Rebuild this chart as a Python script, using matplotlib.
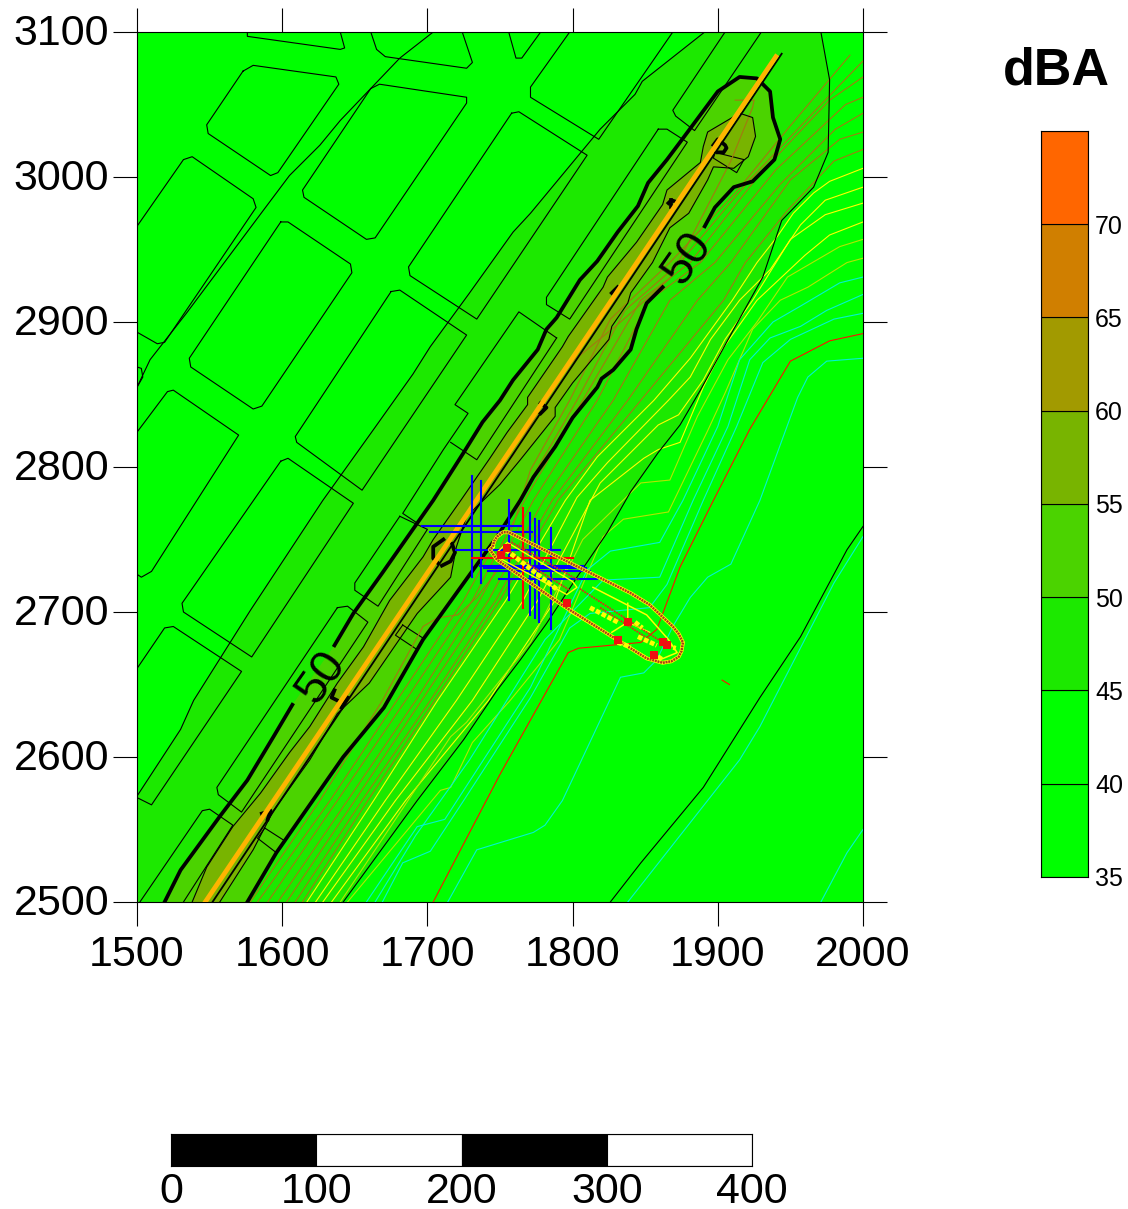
import matplotlib
matplotlib.use('Agg')
import matplotlib.pyplot as plt
from matplotlib.transforms import ScaledTranslation

plt.rcParams['font.family'] = ['Liberation Sans', 'DejaVu Sans']

# colour bands of the legend
levels = [35, 40, 45, 50, 55, 60, 65, 70, 75]
band_colors = ['#00FF00', '#00FF00', '#1CE900', '#4BD300', '#78B400', '#A29A00', '#D07F00', '#FF6600']
x_ticks = [1500, 1600, 1700, 1800, 1900, 2000]
y_ticks = [2500, 2600, 2700, 2800, 2900, 3000, 3100]
scale_ticks = [0, 100, 200, 300, 400]

# buildings
blocks_open = [
    ([1576, 1576, 1640, 1643, 1640], [3100, 3097, 3088, 3089, 3100]),
    ([1661, 1665, 1671, 1727, 1731, 1724], [3100, 3088, 3083, 3075, 3079, 3100]),
    ([1756, 1761, 1765, 1778], [3100, 3082, 3082, 3100]),
    ([1798, 1771, 1771, 1818, 1869], [3100, 3062, 3055, 3026, 3100]),
    ([1905, 1869, 1871, 1884, 1930], [3100, 3046, 3042, 3032, 3100]),
    ([1500, 1532, 1538, 1580, 1582, 1519, 1514, 1500], [2966, 3012, 3014, 2985, 2979, 2886, 2885, 2893]),
    ([1500, 1503, 1504, 1500], [2869, 2868, 2862, 2855]),
    ([1500, 1521, 1525, 1570, 1510, 1503, 1500], [2824, 2852, 2853, 2822, 2728, 2724, 2726]),
    ([1500, 1519, 1525, 1572, 1510, 1500], [2661, 2689, 2690, 2659, 2567, 2572]),
    ([1502, 1545, 1550, 1566, 1532], [2500, 2563, 2564, 2553, 2500]),
    ([1789, 1763, 1719, 1728, 1711, 1683, 1692], [2889, 2907, 2843, 2837, 2812, 2768, 2762]),
    ([1789, 1734, 1716], [2889, 2805, 2817]),
]
blocks_closed = [
    ([1573, 1580, 1637, 1639, 1597, 1592, 1549, 1548], [3073, 3077, 3069, 3064, 3003, 3001, 3030, 3036]),
    ([1661, 1667, 1727, 1727, 1664, 1658, 1615, 1614], [3061, 3064, 3055, 3051, 2958, 2957, 2986, 2991]),
    ([1599, 1604, 1647, 1648, 1586, 1580, 1537, 1536], [2969, 2969, 2940, 2934, 2842, 2840, 2869, 2875]),
    ([1758, 1763, 1810, 1734, 1688, 1687], [3044, 3045, 3015, 2902, 2932, 2938]),
    ([1675, 1681, 1727, 1655, 1610, 1609], [2921, 2922, 2891, 2784, 2817, 2821]),
    ([1599, 1604, 1649, 1579, 1532, 1531], [2804, 2806, 2775, 2669, 2700, 2706]),
    ([1859, 1865, 1879, 1798, 1782, 1782], [3033, 3033, 3024, 2902, 2912, 2917]),
    ([1681, 1700, 1666, 1650, 1650], [2766, 2757, 2704, 2715, 2720]),
    ([1638, 1645, 1659, 1572, 1556, 1555], [2703, 2704, 2693, 2562, 2574, 2579]),
    ([1898, 1918, 1913, 1897], [3017, 3012, 3003, 3013]),
    ([1683, 1697, 1693, 1678], [2691, 2682, 2674, 2684]),
    ([1588, 1602, 1596, 1583], [2551, 2542, 2534, 2544]),
]

# road
road_x = [1547, 1940]
road_y = [2500, 3083]
road_edge_x = [1552, 1944]
road_edge_y = [2500, 3085]

# 40 and 45 dBA contours
c40_left = [(1704, 3100), (1681, 3082), (1660, 3060), (1640, 3039), (1626, 3022), (1605, 3001), (1587, 2977),
            (1534, 2906), (1509, 2874), (1500, 2855)]
c40_right = [(1826, 2500), (1847, 2527), (1890, 2579), (1929, 2641), (1957, 2683), (1989, 2743), (2000, 2759)]
c45_left = [(1891, 3100), (1848, 3066), (1843, 3057), (1819, 3033), (1771, 2975), (1759, 2962), (1729, 2920),
            (1702, 2883), (1690, 2864), (1663, 2826), (1628, 2777), (1578, 2701), (1539, 2639), (1530, 2619),
            (1500, 2573)]
c45_right = [(1971, 3100), (1977, 3067), (1976, 3017), (1966, 2993), (1944, 2970), (1938, 2952), (1931, 2931),
             (1911, 2895), (1888, 2853), (1874, 2829), (1859, 2810), (1840, 2783), (1824, 2755), (1803, 2724),
             (1782, 2692), (1764, 2667), (1748, 2646), (1725, 2612), (1693, 2570), (1642, 2500)]

# 50 dBA contour, broken at its two labels
c50_a = [(1519, 2500), (1530, 2522), (1557, 2559), (1576, 2584), (1594, 2614), (1607, 2636)]
c50_b = [(1636, 2677), (1649, 2699), (1669, 2727), (1690, 2757), (1704, 2777), (1725, 2810), (1738, 2831),
         (1750, 2846), (1759, 2860), (1776, 2881), (1782, 2895), (1789, 2903), (1805, 2929), (1817, 2942),
         (1831, 2962), (1845, 2980), (1852, 2996), (1865, 3012), (1874, 3024), (1900, 3059), (1915, 3069),
         (1927, 3068), (1936, 3059), (1938, 3041), (1943, 3026), (1939, 3012), (1924, 2997), (1911, 2993),
         (1898, 2979), (1891, 2966)]
c50_c = [(1862, 2924), (1851, 2913), (1844, 2895), (1840, 2881), (1828, 2867), (1820, 2861), (1817, 2855),
         (1800, 2834), (1788, 2814), (1773, 2793), (1764, 2777), (1748, 2752), (1725, 2720), (1697, 2681),
         (1670, 2634), (1642, 2600), (1612, 2557), (1596, 2534), (1576, 2500)]

# 55 dBA contour
c55 = [(1538, 2500), (1548, 2524), (1566, 2552), (1585, 2575), (1605, 2603), (1619, 2621), (1638, 2651),
       (1656, 2676), (1674, 2708), (1697, 2738), (1704, 2750), (1723, 2777), (1743, 2806), (1755, 2824),
       (1769, 2843), (1769, 2848), (1793, 2883), (1797, 2890), (1821, 2924), (1824, 2931), (1844, 2955),
       (1862, 2981), (1865, 2991), (1888, 3010), (1890, 3021), (1893, 3031), (1915, 3044), (1924, 3041),
       (1926, 3028), (1921, 3014), (1911, 3006), (1897, 3007), (1893, 2998), (1880, 2975), (1867, 2965),
       (1855, 2941), (1840, 2920), (1838, 2913), (1827, 2897), (1825, 2888), (1800, 2858), (1788, 2841),
       (1788, 2835), (1764, 2805), (1750, 2788), (1727, 2766), (1720, 2745), (1716, 2724), (1693, 2699),
       (1660, 2651), (1638, 2630), (1619, 2598), (1594, 2563), (1580, 2536), (1557, 2500)]

# short thick pieces of the 60 dBA contour
c60_pieces = [
    [(1711, 2750), (1704, 2745), (1704, 2737), (1707, 2734)],
    [(1717, 2747), (1719, 2741), (1716, 2735), (1710, 2732)],
    [(1636, 2646), (1634, 2641), (1640, 2638)],
    [(1645, 2641), (1641, 2634)],
    [(1586, 2561), (1592, 2563), (1590, 2557)],
    [(1778, 2844), (1782, 2841), (1778, 2837)],
    [(1827, 2920), (1831, 2924)],
    [(1866, 2982), (1868, 2984), (1871, 2983)],
    [(1868, 2984), (1868, 2979)],
    [(1897, 3022), (1900, 3026), (1905, 3022), (1906, 3020), (1904, 3017), (1900, 3017)],
]

# coloured contours east of the road
brown_lines = [
    [(1991, 3084), (1948, 3033), (1912, 2989), (1867, 2941), (1826, 2902), (1798, 2846), (1771, 2798), (1750, 2731),
     (1734, 2710), (1721, 2698), (1707, 2696), (1697, 2690), (1669, 2639), (1626, 2570), (1578, 2500)],
    [(2000, 3080), (1971, 3050), (1922, 2998), (1874, 2941), (1836, 2908), (1803, 2846), (1763, 2777), (1725, 2708),
     (1679, 2639), (1633, 2570), (1583, 2500)],
    [(2000, 3069), (1977, 3053), (1929, 3002), (1881, 2941), (1847, 2915), (1807, 2846), (1767, 2777), (1731, 2708),
     (1685, 2639), (1638, 2570), (1590, 2500)],
    [(2000, 3055), (1988, 3050), (1940, 3005), (1888, 2941), (1853, 2915), (1817, 2846), (1773, 2777), (1736, 2708),
     (1692, 2639), (1645, 2570), (1597, 2500)],
    [(2000, 3044), (1981, 3033), (1943, 2995), (1898, 2941), (1867, 2915), (1828, 2846), (1780, 2777), (1742, 2708),
     (1696, 2639), (1650, 2570), (1603, 2500)],
    [(2000, 3031), (1984, 3026), (1950, 2998), (1909, 2941), (1886, 2915), (1838, 2846), (1786, 2777), (1747, 2708),
     (1702, 2639), (1655, 2570), (1609, 2500)],
    [(2000, 3019), (1980, 3011), (1948, 2977), (1919, 2941), (1904, 2915), (1847, 2846), (1790, 2777), (1750, 2708),
     (1705, 2639), (1659, 2570), (1614, 2500)],
    [(1912, 3053), (1925, 3053), (1924, 3048), (1909, 3011), (1867, 2930), (1833, 2900), (1793, 2867), (1759, 2808),
     (1731, 2775), (1722, 2752)],
]
yellow_lines = [
    [(2000, 3006), (1977, 2997), (1966, 2989), (1952, 2975), (1941, 2959), (1927, 2941), (1910, 2915), (1881, 2875),
     (1856, 2846), (1817, 2807), (1795, 2777), (1754, 2708), (1707, 2639), (1663, 2570), (1617, 2500)],
    [(2000, 2993), (1974, 2984), (1957, 2967), (1936, 2936), (1915, 2915), (1895, 2888), (1881, 2862), (1866, 2846),
     (1824, 2803), (1803, 2779), (1766, 2708), (1720, 2639), (1671, 2570), (1623, 2500)],
    [(2000, 2982), (1974, 2974), (1950, 2957), (1924, 2915), (1905, 2888), (1890, 2860), (1873, 2836), (1859, 2829),
     (1819, 2789), (1776, 2708), (1731, 2639), (1678, 2570), (1628, 2500)],
    [(2000, 2969), (1977, 2960), (1960, 2946), (1927, 2915), (1903, 2881), (1890, 2855), (1874, 2817), (1859, 2812),
     (1849, 2806), (1812, 2777), (1788, 2708), (1742, 2639), (1685, 2570), (1634, 2500)],
]
lime_lines = [
    [(2000, 2957), (1984, 2952), (1948, 2931), (1927, 2900), (1907, 2874), (1886, 2835), (1867, 2791), (1847, 2789),
     (1807, 2750), (1771, 2679), (1727, 2624), (1716, 2614), (1640, 2500)],
    [(2000, 2944), (1989, 2941), (1962, 2924), (1943, 2915), (1924, 2895), (1905, 2851), (1893, 2825), (1866, 2769),
     (1835, 2764), (1821, 2752), (1791, 2681), (1757, 2639), (1731, 2610), (1716, 2579), (1709, 2577), (1645, 2500)],
]
cyan_lines = [
    [(2000, 2931), (1984, 2927), (1957, 2911), (1938, 2900), (1915, 2874), (1900, 2828), (1876, 2777), (1860, 2748),
     (1826, 2742), (1810, 2729), (1771, 2648), (1712, 2557), (1693, 2552), (1658, 2500)],
    [(2000, 2919), (1975, 2908), (1957, 2897), (1936, 2889), (1922, 2874), (1907, 2828), (1883, 2777), (1860, 2724),
     (1821, 2722), (1781, 2681), (1729, 2598), (1692, 2546), (1664, 2500)],
    [(2000, 2906), (1980, 2902), (1950, 2888), (1931, 2872), (1913, 2828), (1890, 2777), (1865, 2719), (1853, 2703),
     (1812, 2699), (1798, 2689), (1771, 2641), (1725, 2570), (1702, 2535), (1683, 2527), (1669, 2500)],
    [(1714, 2500), (1734, 2536), (1773, 2548), (1781, 2553), (1793, 2570), (1833, 2655), (1849, 2658), (1858, 2667),
     (1869, 2690), (1881, 2710), (1893, 2724), (1909, 2733), (1929, 2777), (1955, 2848), (1962, 2862), (1975, 2873),
     (2000, 2875)],
    [(1838, 2500), (1915, 2598), (1929, 2621), (1980, 2720), (2000, 2752)],
    [(1971, 2500), (1989, 2534), (2000, 2550)],
]
red_line = [(1704, 2500), (1750, 2588), (1797, 2672), (1804, 2675), (1847, 2679), (1858, 2688), (1874, 2731),
            (1897, 2777), (1922, 2826), (1950, 2873), (1977, 2887), (2000, 2892)]
red_tick = [(1903, 2653), (1908, 2650)]

# receptor grid crosses: x or y, then the two ends
blue_vert = [(1731, 2724, 2794), (1737, 2720, 2790), (1756, 2708, 2777), (1771, 2698, 2768), (1774, 2696, 2764),
             (1777, 2693, 2763), (1785, 2688, 2758)]
blue_horiz = [(2759, 1696, 1765), (2755, 1702, 1772), (2743, 1720, 1791), (2732, 1736, 1807), (2730, 1739, 1809),
              (2728, 1742, 1812), (2723, 1749, 1817)]
red_vert = [(1766, 2703, 2772)]
red_horiz = [(2737, 1731, 1800)]

# plant outline and what is inside it
plant_outer = [(1745, 2745), (1746, 2749), (1748, 2752), (1752, 2755), (1756, 2755), (1840, 2713), (1853, 2705),
               (1869, 2690), (1873, 2685), (1876, 2679), (1875, 2673), (1873, 2669), (1868, 2666), (1862, 2665),
               (1851, 2668), (1794, 2704), (1748, 2736), (1743, 2743), (1745, 2745)]
plant_inner = [(1749, 2742), (1755, 2748), (1800, 2721), (1803, 2717), (1796, 2712), (1787, 2717), (1750, 2737),
               (1749, 2742)]
plant_yellow = [
    [(1814, 2717), (1851, 2698), (1866, 2681), (1872, 2672), (1860, 2667), (1856, 2666), (1798, 2700)],
    [(1838, 2706), (1838, 2693), (1827, 2686)],
    [(1838, 2693), (1853, 2686)],
]
plant_red = [
    [(1805, 2716), (1862, 2679)],
    [(1819, 2703), (1853, 2681)],
    [(1754, 2743), (1798, 2715)],
    [(1758, 2748), (1804, 2722)],
]
plant_labels = [
    [(1754, 2743), (1790, 2715)],
    [(1812, 2703), (1831, 2693)],
    [(1843, 2693), (1848, 2689)],
    [(1845, 2683), (1858, 2677)],
    [(1831, 2679), (1840, 2676)],
    [(1865, 2677), (1871, 2675)],
    [(1855, 2672), (1862, 2667)],
]
source_x = [1755, 1751, 1796, 1838, 1831, 1862, 1856, 1865]
source_y = [2744, 2739, 2706, 2693, 2681, 2679, 2670, 2677]

label_pos = [(1627, 2655), (1879, 2944)]


def draw(ax, pts, color, lw=0.8, **kw):
    xs, ys = zip(*pts)
    ax.plot(xs, ys, color=color, lw=lw, solid_joinstyle='round', **kw)


fig = plt.figure(figsize=(11.28, 12.09), dpi=100)
W, H = 1128.0, 1209.0

ax = fig.add_axes([137 / W, 1 - 902 / H, 726 / W, 870 / H])
ax.set_facecolor(band_colors[0])
ax.set_xlim(1500, 2000)
ax.set_ylim(2500, 3100)

# filled zones
zone45 = c45_left + [(1500, 2500)] + c45_right[::-1]
ax.fill(*zip(*zone45), color=band_colors[2], lw=0, zorder=1)
ax.fill(*zip(*(c50_a + c50_b + c50_c)), color=band_colors[3], lw=0, zorder=1.1)
ax.fill(*zip(*c55), color=band_colors[4], lw=0, zorder=1.2)

for bx, by in blocks_open:
    ax.plot(bx, by, color='k', lw=0.8, zorder=2)
for bx, by in blocks_closed:
    ax.plot(bx + bx[:1], by + by[:1], color='k', lw=0.8, zorder=2)

for line in brown_lines:
    draw(ax, line, '#A27A10', zorder=3)
for line in yellow_lines:
    draw(ax, line, '#FFFF00', zorder=3)
for line in lime_lines:
    draw(ax, line, '#B0E800', zorder=3)
for line in cyan_lines:
    draw(ax, line, '#00F5D0', zorder=3)
draw(ax, red_line, '#FF1000', zorder=3)
draw(ax, red_tick, '#FF1000', zorder=3)

for line in [c40_left, c40_right, c45_left, c45_right, c55]:
    draw(ax, line, 'k', zorder=4)
for line in [c50_a, c50_b, c50_c]:
    draw(ax, line, 'k', lw=2.7, zorder=4)
for line in c60_pieces:
    draw(ax, line, 'k', lw=2.7, zorder=4)

ax.plot(road_edge_x, road_edge_y, color='k', lw=1.3, zorder=5)
ax.plot(road_x, road_y, color='#FFB400', lw=3.4, zorder=5.1)

for tx, (lx, ly) in zip(['50', '50'], label_pos):
    ax.text(lx, ly, tx, rotation=55, fontsize=34, ha='center', va='center', rotation_mode='anchor', zorder=6)

for x0, y0, y1 in blue_vert:
    ax.plot([x0, x0], [y0, y1], color='#0000FF', lw=1.5, zorder=7)
for y0, x0, x1 in blue_horiz:
    ax.plot([x0, x1], [y0, y0], color='#0000FF', lw=1.5, zorder=7)
for x0, y0, y1 in red_vert:
    ax.plot([x0, x0], [y0, y1], color='#FF0000', lw=1.5, zorder=7.1)
for y0, x0, x1 in red_horiz:
    ax.plot([x0, x1], [y0, y0], color='#FF0000', lw=1.5, zorder=7.1)

draw(ax, plant_outer, '#FFFF00', lw=2.8, zorder=8)
draw(ax, plant_outer, '#A83C20', lw=1.8, ls=(0, (0.8, 0.3)), zorder=8.1)
draw(ax, plant_inner, '#FFFF00', lw=1.0, zorder=8)
for line in plant_yellow:
    draw(ax, line, '#FFFF00', lw=1.1, zorder=8)
for line in plant_red:
    draw(ax, line, '#D83018', lw=1.3, ls=(0, (1, 0.5)), zorder=8.1)
for line in plant_labels:
    draw(ax, line, '#FFFF00', lw=3.4, ls=(0, (1, 0.4)), zorder=8.2)
ax.scatter(source_x, source_y, marker='s', s=30, color='#F01010', lw=0, zorder=8.3)

ax.set_xticks(x_ticks)
ax.set_yticks(y_ticks)
ax.tick_params(top=True, right=True, direction='out', length=17, width=0.8, labelsize=31)
ax.tick_params(axis='x', pad=7)
ax.tick_params(axis='y', pad=3)
# nudge the y labels so they sit on their ticks as in the picture
nudge = ScaledTranslation(0, -0.02, fig.dpi_scale_trans)
for tick in ax.yaxis.get_major_ticks():
    tick.label1.set_verticalalignment('center')
    tick.label1.set_transform(tick.label1.get_transform() + nudge)
for s in ax.spines.values():
    s.set_linewidth(0.8)

# legend bar
cax = fig.add_axes([1041 / W, 1 - 877 / H, 47 / W, 746 / H])
for i in range(len(band_colors)):
    cax.bar(0, levels[i + 1] - levels[i], bottom=levels[i], width=1, color=band_colors[i], edgecolor='k', lw=0.8)
cax.set_xlim(-0.5, 0.5)
cax.set_ylim(35, 75)
cax.set_xticks([])
cax.set_yticks(levels[:-1])
cax.yaxis.tick_right()
cax.tick_params(axis='y', length=0, pad=5, labelsize=18)
for s in cax.spines.values():
    s.set_linewidth(0.8)
fig.text(1056 / W, 1 - 71 / H, 'dBA', fontsize=37.5, fontweight='bold', ha='center', va='center')

# scale bar
sax = fig.add_axes([171 / W, 1 - 1166 / H, 581 / W, 32 / H])
for i in range(len(scale_ticks) - 1):
    sax.barh(0, scale_ticks[i + 1] - scale_ticks[i], left=scale_ticks[i], height=1,
             color='k' if i % 2 == 0 else 'w', edgecolor='k', lw=0.8)
sax.set_xlim(0, 400)
sax.set_ylim(-0.5, 0.5)
sax.set_yticks([])
sax.set_xticks(scale_ticks)
sax.tick_params(axis='x', length=0, pad=4, labelsize=31)
for s in sax.spines.values():
    s.set_linewidth(0.8)

fig.savefig('out.png', dpi=100)
